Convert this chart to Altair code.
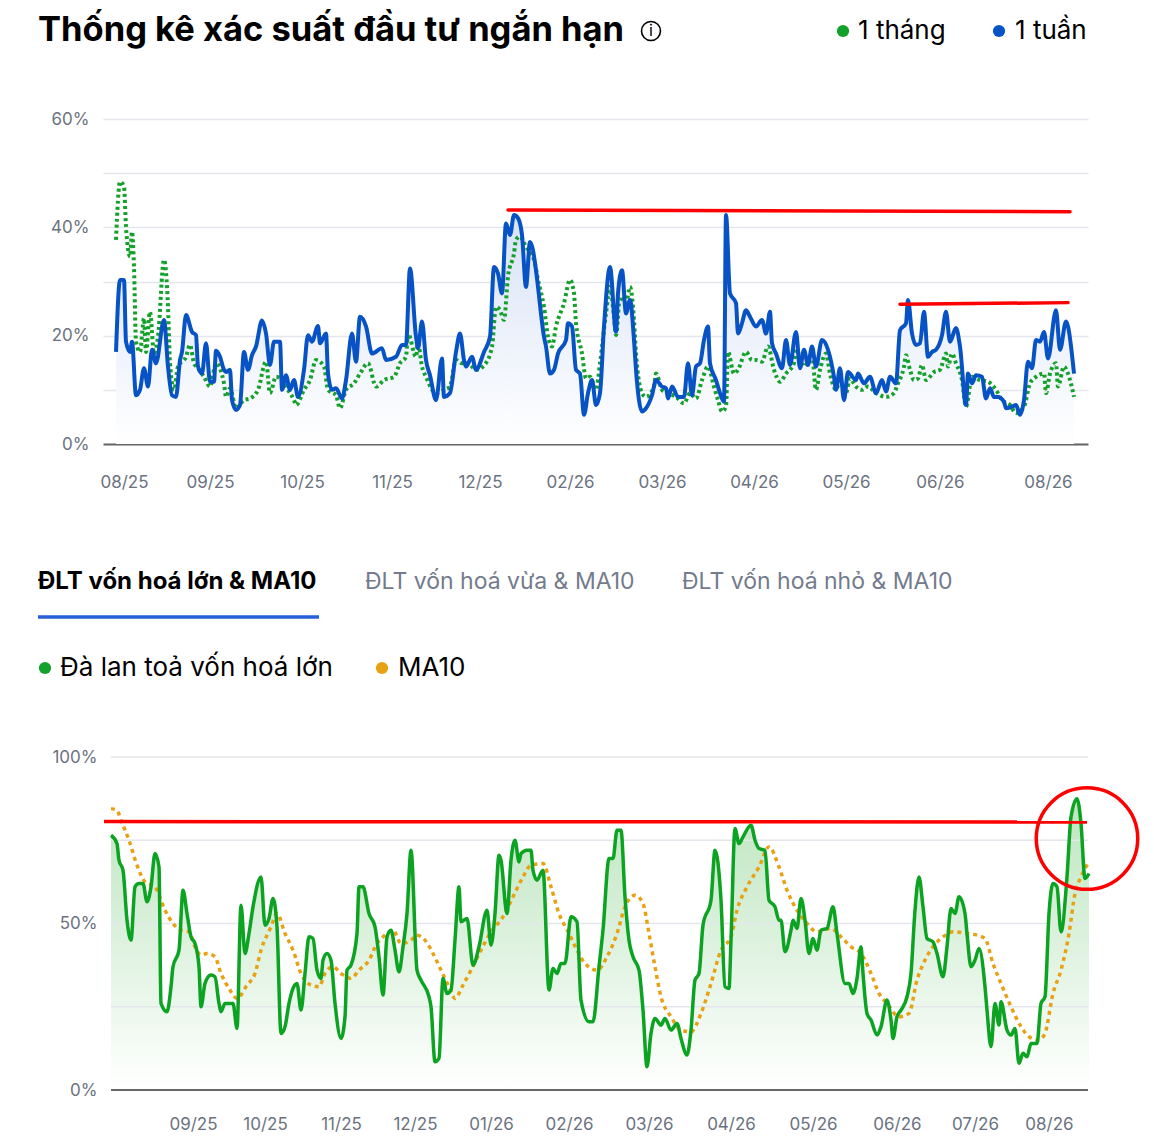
import altair as alt
import pandas as pd

# ---------------- texts ----------------
TITLE = "Thống kê xác suất đầu tư ngắn hạn"
TOP_LEGEND = ["1 tháng", "1 tuần"]
TABS = ["ĐLT vốn hoá lớn & MA10", "ĐLT vốn hoá vừa & MA10", "ĐLT vốn hoá nhỏ & MA10"]
BOT_LEGEND = ["Đà lan toả vốn hoá lớn", "MA10"]

# ---------------- top chart data (session index, %) ----------------
TOP_TICKS = [4, 47, 93, 138, 182, 227, 273, 319, 365, 412, 466]
TOP_TICK_LABELS = ["08/25", "09/25", "10/25", "11/25", "12/25", "02/26",
                   "03/26", "04/26", "05/26", "06/26", "08/26"]

week_x = [0, 2, 4, 5, 7, 8, 10, 12, 14, 16, 18, 20, 24, 26, 28, 30, 32, 33, 35, 38,
          40, 41, 43, 45, 47, 49, 50, 52, 54, 55, 57, 58, 60, 62, 64, 66, 68, 70, 73, 75,
          77, 79, 82, 83, 85, 87, 89, 91, 94, 96, 98, 101, 102, 105, 106, 108, 110, 113, 115, 118,
          120, 122, 125, 128, 133, 135, 140, 143, 145, 147, 150, 151, 153, 155, 157, 160, 163, 164, 167, 170,
          172, 174, 175, 178, 180, 184, 187, 189, 191, 193, 195, 197, 199, 201, 203, 205, 207, 210, 211, 214,
          215, 217, 219, 221, 225, 226, 228, 230, 232, 234, 236, 238, 240, 242, 244, 247, 250, 251, 253, 255,
          257, 259, 260, 263, 265, 268, 270, 273, 275, 276, 278, 281, 284, 286, 288, 290, 292, 294, 296, 297,
          300, 302, 304, 305, 307, 310, 311, 313, 315, 317, 320, 323, 325, 327, 328, 330, 333, 335, 337, 340,
          342, 344, 346, 348, 350, 353, 356, 359, 360, 362, 364, 366, 370, 371, 374, 377, 380, 383, 385, 387,
          390, 392, 395, 396, 398, 400, 402, 404, 406, 408, 410, 413, 415, 417, 420, 422, 425, 426, 428, 430,
          433, 435, 437, 439, 441, 444, 445, 448, 450, 452, 454, 456, 458, 460, 462, 464, 466, 470, 472, 475,
          476, 479]
week_y = [17.0, 30.3, 30.3, 18.9, 17.0, 18.9, 9.0, 10.0, 14.0, 10.6, 17.4, 14.9, 22.9, 14.3, 9.0, 8.7, 15.5, 17.0, 23.8, 20.7,
          20.1, 14.3, 13.0, 18.6, 11.5, 11.5, 17.2, 16.1, 13.7, 13.3, 13.7, 8.1, 6.3, 7.2, 17.0, 13.7, 16.4, 18.0, 22.8, 20.4,
          14.6, 18.9, 18.9, 10.0, 12.7, 10.0, 11.8, 8.7, 13.7, 20.1, 18.9, 21.8, 18.6, 20.4, 13.0, 10.0, 10.3, 8.4, 11.8, 20.4,
          15.2, 23.5, 21.7, 16.7, 17.7, 15.5, 16.1, 18.3, 18.3, 32.4, 19.8, 17.7, 22.6, 15.5, 12.7, 8.1, 15.8, 8.7, 9.4, 17.0,
          20.4, 15.5, 14.3, 16.1, 13.7, 17.0, 19.8, 32.7, 31.5, 27.8, 40.7, 38.6, 42.3, 41.7, 38.6, 29.0, 37.3, 32.1, 29.0, 19.8,
          18.0, 13.0, 13.7, 16.7, 19.2, 22.3, 21.7, 13.7, 13.0, 5.4, 9.4, 11.8, 7.2, 9.4, 21.7, 32.7, 20.7, 27.8, 32.1, 24.1,
          26.6, 19.2, 13.7, 6.0, 6.6, 9.0, 11.8, 10.6, 10.3, 8.4, 10.6, 8.7, 8.7, 14.9, 9.0, 14.3, 14.9, 19.2, 21.7, 14.9,
          11.8, 9.4, 7.8, 42.3, 27.8, 26.0, 20.4, 22.3, 24.7, 23.5, 21.7, 22.9, 20.4, 24.4, 18.6, 16.7, 14.0, 19.2, 14.6, 20.7,
          14.0, 17.4, 14.6, 18.0, 14.3, 19.2, 17.4, 12.4, 10.0, 14.0, 8.1, 13.3, 11.8, 13.0, 11.2, 12.4, 9.4, 11.8, 9.7, 12.4,
          11.2, 21.0, 22.3, 26.6, 20.4, 18.3, 18.6, 24.4, 16.1, 17.0, 17.4, 20.1, 24.4, 18.9, 21.4, 18.0, 7.2, 13.0, 11.2, 12.7,
          12.4, 8.4, 10.3, 8.7, 8.7, 7.8, 6.6, 6.9, 7.2, 5.4, 8.1, 15.2, 14.0, 19.2, 18.9, 20.7, 15.8, 24.7, 17.4, 22.6,
          21.7, 13.0]

month_x = [0, 2, 4, 5, 7, 8, 9, 10, 12, 14, 15, 17, 19, 21, 24, 26, 27, 29, 31, 35,
           37, 39, 41, 44, 47, 50, 54, 55, 57, 60, 64, 67, 71, 75, 77, 80, 83, 86, 89, 90,
           94, 97, 100, 104, 106, 110, 112, 115, 119, 122, 126, 130, 134, 139, 142, 145, 146, 150, 151, 153,
           155, 160, 164, 167, 170, 173, 176, 180, 184, 188, 190, 192, 194, 196, 199, 200, 202, 205, 209, 211,
           214, 216, 218, 220, 224, 227, 229, 230, 233, 235, 237, 240, 242, 245, 247, 249, 250, 252, 255, 257,
           259, 260, 263, 265, 269, 270, 273, 276, 280, 284, 287, 290, 293, 296, 299, 301, 303, 305, 306, 309,
           311, 315, 318, 320, 323, 326, 329, 332, 335, 339, 340, 344, 348, 350, 352, 355, 357, 360, 362, 365,
           367, 370, 373, 376, 380, 382, 385, 389, 391, 394, 395, 397, 399, 401, 403, 405, 409, 412, 415, 416,
           418, 420, 423, 425, 428, 432, 436, 440, 443, 447, 450, 454, 457, 460, 464, 465, 467, 470, 471, 474,
           476, 479]
month_y = [37.7, 48.4, 47.5, 40.1, 34.6, 39.2, 32.7, 18.9, 17.0, 23.2, 17.0, 24.4, 16.7, 19.8, 34.0, 25.3, 14.9, 10.0, 14.3, 16.1,
           18.3, 14.9, 14.0, 12.4, 10.6, 14.9, 11.2, 8.7, 10.3, 6.6, 8.1, 8.4, 10.0, 15.2, 9.4, 12.4, 11.8, 10.0, 8.1, 7.2,
           10.0, 11.8, 15.5, 14.3, 10.0, 9.0, 6.6, 10.0, 11.2, 13.0, 14.9, 10.6, 11.8, 12.4, 14.9, 16.1, 20.4, 16.1, 18.6, 14.3,
           12.4, 9.4, 10.0, 10.6, 15.5, 14.9, 14.9, 13.7, 14.5, 18.0, 25.3, 24.7, 22.9, 30.9, 35.2, 37.7, 38.3, 36.4, 34.0, 30.3,
           25.3, 19.8, 18.0, 21.7, 26.0, 30.3, 27.8, 22.3, 16.7, 12.1, 12.4, 10.0, 14.9, 24.1, 29.0, 23.5, 20.1, 27.2, 26.0, 29.0,
           22.9, 16.7, 9.4, 8.7, 10.6, 13.0, 10.0, 9.4, 8.7, 7.5, 9.4, 8.4, 11.8, 14.3, 10.6, 8.1, 6.0, 6.9, 17.0, 13.0,
           13.7, 17.0, 15.5, 15.5, 15.2, 18.0, 13.7, 11.5, 13.0, 14.9, 17.4, 14.3, 16.4, 10.0, 13.7, 16.7, 13.0, 10.0, 11.8, 9.4,
           12.1, 10.6, 10.0, 10.6, 9.4, 9.0, 8.7, 9.4, 11.2, 14.3, 16.4, 13.7, 11.8, 12.1, 14.6, 11.8, 13.3, 13.7, 16.7, 14.3,
           16.7, 14.9, 11.8, 6.9, 12.4, 11.8, 11.5, 10.0, 8.1, 7.2, 5.7, 6.9, 11.2, 12.4, 13.0, 9.4, 13.0, 14.9, 10.6, 14.3,
           13.0, 8.7]

# red annotation lines on the top chart: (x start, x end, y start, y end)
top_red_x1 = [196, 392]
top_red_x2 = [477, 476]
top_red_y1 = [43.2, 25.8]
top_red_y2 = [42.9, 26.1]

# ---------------- bottom chart data (session index, %) ----------------
BOT_TICKS = [41, 77, 115, 152, 190, 229, 269, 310, 351, 393, 432, 469]
BOT_TICK_LABELS = ["09/25", "10/25", "11/25", "12/25", "01/26", "02/26",
                   "03/26", "04/26", "05/26", "06/26", "07/26", "08/26"]
BOT_GRID = [25, 50, 75, 100]

large_x = [0, 3, 4, 6, 8, 10, 12, 14, 16, 18, 20, 22, 24, 25, 28, 30, 31, 34, 36, 38,
           40, 42, 44, 45, 47, 50, 52, 54, 55, 57, 61, 63, 65, 67, 69, 71, 75, 77, 79, 81,
           83, 85, 87, 89, 91, 93, 95, 97, 99, 101, 103, 105, 106, 108, 110, 112, 115, 117, 118, 120,
           123, 124, 126, 129, 132, 134, 136, 138, 140, 142, 144, 146, 148, 150, 153, 155, 159, 160, 162, 164,
           166, 168, 170, 172, 174, 175, 178, 181, 184, 188, 190, 192, 194, 195, 198, 200, 202, 204, 205, 208,
           210, 211, 213, 216, 219, 221, 223, 225, 227, 230, 233, 235, 239, 241, 244, 246, 249, 251, 253, 255,
           257, 259, 261, 264, 266, 268, 270, 272, 275, 277, 280, 283, 285, 288, 290, 292, 294, 296, 300, 302,
           305, 307, 309, 310, 312, 314, 316, 320, 322, 324, 327, 329, 332, 334, 335, 337, 340, 341, 343, 345,
           347, 349, 351, 353, 355, 358, 361, 363, 367, 369, 371, 373, 375, 376, 378, 380, 383, 385, 388, 390,
           391, 393, 395, 398, 400, 402, 404, 406, 408, 411, 413, 416, 418, 420, 422, 424, 427, 428, 430, 432,
           434, 437, 438, 440, 442, 444, 445, 448, 450, 452, 454, 456, 458, 460, 463, 465, 467, 469, 471, 473,
           475, 478, 480, 483, 485, 487, 489]
large_y = [76.5, 74, 69, 66, 51, 45, 61, 62, 62, 56.5, 61, 71, 67, 26, 23.5, 31, 37, 42, 60, 53,
           46, 44, 37, 25, 32, 34.5, 34, 26, 23.5, 26, 26, 18.5, 55.5, 41, 47, 55, 64, 49.5, 51.5, 57.5,
           49, 17, 19, 26, 30.5, 32, 24, 35, 46, 45.5, 36, 33.5, 39, 41, 39, 26, 15.5, 22, 36, 37.5,
           47, 61, 61, 53, 49, 40, 28.5, 46, 48, 42, 35.5, 43, 53, 72, 36, 33, 28, 25, 8.5, 9.5,
           33.5, 29, 30, 45, 61, 50.5, 51.5, 37.5, 43, 54, 43.5, 53, 70.5, 69, 53, 69, 75, 68.5, 71, 72,
           72, 66, 63, 66, 30, 36.5, 35, 38, 38, 52, 50.5, 27, 20.5, 20.5, 37, 48, 69.5, 69.5, 78, 78,
           58, 45, 40, 36, 24, 7, 17, 21.5, 19.5, 21.5, 18, 20, 15.5, 10.5, 18, 33, 35, 49.5, 57, 72,
           57, 31, 30.5, 45, 78.5, 74, 76, 79.5, 75, 72.5, 72, 57, 55, 51, 51, 41.5, 48, 51, 48.5, 57.5,
           51, 41, 45.5, 42, 48, 48.5, 55, 47, 32, 32, 29, 33.5, 43, 35, 23, 21, 16.5, 19, 27, 21,
           15.5, 22, 24, 28, 35, 54, 64, 55, 45.5, 44.5, 41, 34, 43, 54.5, 53, 58, 53, 47, 37, 39,
           42.5, 31, 24, 13, 26, 19.5, 26.5, 18, 16.5, 18.5, 8, 11, 10, 14, 14, 26, 28, 53, 62, 61,
           47.5, 64, 82, 87.5, 80, 63.5, 65]

ma10_x = [0, 3, 5, 9, 13, 17, 22, 27, 31, 35, 39, 42, 45, 48, 52, 55, 59, 63, 68, 72,
          75, 80, 83, 87, 91, 95, 100, 104, 107, 111, 115, 120, 124, 129, 133, 137, 141, 145, 150, 153,
          157, 161, 165, 169, 172, 176, 180, 185, 190, 196, 201, 206, 210, 216, 220, 224, 229, 233, 237, 243,
          248, 253, 257, 262, 266, 269, 272, 275, 280, 285, 290, 295, 300, 305, 310, 313, 318, 324, 329, 334,
          338, 343, 348, 353, 360, 365, 370, 375, 380, 384, 388, 394, 399, 403, 407, 411, 416, 421, 428, 433,
          437, 441, 445, 450, 455, 459, 464, 467, 471, 475, 479, 482, 485, 489]
ma10_y = [84.5, 84, 81, 75, 67.5, 62.5, 61, 54, 50, 48, 47.5, 43, 40.5, 41, 40, 35, 30.5, 27.5, 31.5, 35,
          42, 49, 53, 47, 42, 35, 31.5, 31, 35, 37, 35, 33.5, 36, 39, 44, 46.5, 48, 44, 45, 46.5,
          45, 41, 36, 31, 27.5, 31.5, 36, 42, 47.5, 52, 58, 64, 67.5, 68, 61, 53, 47, 42, 38, 36,
          40, 47, 55, 58.5, 56, 47, 37, 28, 22, 18, 17.5, 23, 32, 42, 46, 54, 61, 67, 73, 67,
          60, 54, 50, 47.5, 48.5, 46, 43, 41, 35, 29, 26, 22, 23, 33, 39, 43, 46, 47.5, 47, 46.5,
          45.5, 38, 32, 25, 19, 16, 15, 17, 29, 36, 47, 59, 64, 68.5]

bot_red_x1 = [-3.5]
bot_red_x2 = [488]
bot_red_y1 = [80.6]
bot_red_y2 = [80.5]
circle_x = [488]
circle_y = [75.5]

# ---------------- styling ----------------
FONT = "Inter"
BLUE = "#0753c6"
GREEN_TOP = "#13a12a"
GREEN = "#0ba321"
ORANGE = "#e9a114"
RED = "#ff0000"
GRID = "#e4e6eb"
LABEL = "#6b7280"
PLOT_W = 985


def label_expr(ticks, labels):
    expr = "''"
    for t, l in reversed(list(zip(ticks, labels))):
        expr = f"datum.value === {t} ? '{l}' : ({expr})"
    return expr


def txt(text, x, y, size, color="#000000", weight="normal", align="left"):
    return alt.Chart(pd.DataFrame({"t": [text]})).mark_text(
        font=FONT, fontSize=size, fontWeight=weight, color=color,
        align=align, baseline="middle"
    ).encode(x=alt.value(x), y=alt.value(y), text="t:N")


def dot(x, y, color, size):
    return alt.Chart(pd.DataFrame({"d": [0]})).mark_point(
        shape="circle", filled=True, opacity=1, color=color, size=size
    ).encode(x=alt.value(x), y=alt.value(y))


# ---------------- top chart ----------------
week_df = pd.DataFrame({"s": week_x, "v": week_y})
month_df = pd.DataFrame({"s": month_x, "v": month_y})
top_red_df = pd.DataFrame({"x1": top_red_x1, "x2": top_red_x2, "y1": top_red_y1, "y2": top_red_y2})

tx = alt.X("s:Q", scale=alt.Scale(domain=[-6.5, 486], nice=False, zero=False),
           axis=alt.Axis(values=TOP_TICKS, labelExpr=label_expr(TOP_TICKS, TOP_TICK_LABELS),
                         grid=False, ticks=False, domainColor="#666666", domainWidth=2,
                         labelPadding=30, title=None, labelFlush=False))
ty = alt.Y("v:Q", scale=alt.Scale(domain=[0, 60], nice=False),
           axis=alt.Axis(values=[0, 10, 20, 30, 40, 50, 60],
                         labelExpr="datum.value % 20 === 0 ? datum.value + '%' : ''",
                         grid=True, gridColor=GRID, gridWidth=1.3, ticks=False, domain=False,
                         labelPadding=14, title=None))

top_area = alt.Chart(week_df).mark_area(
    interpolate="monotone",
    color=alt.Gradient(gradient="linear",
                       stops=[alt.GradientStop(color="#ffffff", offset=0),
                              alt.GradientStop(color="#d8e2f6", offset=1)],
                       x1=1, x2=1, y1=1, y2=0)
).encode(x=tx, y=ty)
top_month = alt.Chart(month_df).mark_line(
    interpolate="monotone", color=GREEN_TOP, strokeWidth=4, strokeDash=[3, 3]
).encode(x="s:Q", y="v:Q")
top_week = alt.Chart(week_df).mark_line(
    interpolate="monotone", color=BLUE, strokeWidth=4
).encode(x="s:Q", y="v:Q")
top_red = alt.Chart(top_red_df).mark_rule(color=RED, strokeWidth=3.5, strokeCap="round").encode(
    x="x1:Q", x2="x2:Q", y="y1:Q", y2="y2:Q")

info_ring = alt.Chart(pd.DataFrame({"d": [0]})).mark_point(
    shape="circle", filled=False, color="#000000", strokeWidth=1.6, size=360, opacity=1
).encode(x=alt.value(548), y=alt.value(-88))

top = alt.layer(
    top_area, top_month, top_week, top_red,
    txt(TITLE, -65, -88, 34.5, weight="bold"),
    info_ring,
    txt("i", 548, -88, 16, align="center"),
    dot(740, -88, "#12a12a", 150), txt(TOP_LEGEND[0], 755, -88, 26),
    dot(896, -88, "#0753c6", 150), txt(TOP_LEGEND[1], 912, -88, 26),
).properties(width=PLOT_W, height=325)

# ---------------- bottom chart ----------------
large_df = pd.DataFrame({"s": large_x, "v": large_y})
ma_df = pd.DataFrame({"s": ma10_x, "v": ma10_y})
bot_red_df = pd.DataFrame({"x1": bot_red_x1, "x2": bot_red_x2, "y1": bot_red_y1, "y2": bot_red_y2})
circle_df = pd.DataFrame({"s": circle_x, "v": circle_y})
grid_df = pd.DataFrame({"g": BOT_GRID})
base_df = pd.DataFrame({"g": [0]})

bx = alt.X("s:Q", scale=alt.Scale(domain=[-4, 488.5], nice=False, zero=False),
           axis=alt.Axis(values=BOT_TICKS, labelExpr=label_expr(BOT_TICKS, BOT_TICK_LABELS),
                         grid=False, ticks=False, domain=False,
                         labelPadding=26, title=None, labelFlush=False))
by = alt.Y("v:Q", scale=alt.Scale(domain=[0, 100], nice=False),
           axis=alt.Axis(values=[0, 50, 100], format=".0f",
                         labelExpr="datum.value + '%'",
                         grid=False, ticks=False, domain=False,
                         labelPadding=6, title=None))

bot_grid = alt.Chart(grid_df).mark_rule(color=GRID, strokeWidth=1.3).encode(
    y="g:Q", x=alt.value(8), x2=alt.value(PLOT_W))
bot_base = alt.Chart(base_df).mark_rule(color="#666666", strokeWidth=2).encode(
    y="g:Q", x=alt.value(8), x2=alt.value(PLOT_W))

bot_area = alt.Chart(large_df).mark_area(
    interpolate="monotone",
    color=alt.Gradient(gradient="linear",
                       stops=[alt.GradientStop(color="#ffffff", offset=0),
                              alt.GradientStop(color="#bde5bf", offset=1)],
                       x1=1, x2=1, y1=1, y2=0)
).encode(x=bx, y=by)
bot_ma = alt.Chart(ma_df).mark_line(
    interpolate="monotone", color=ORANGE, strokeWidth=3.5, strokeDash=[4, 4]
).encode(x="s:Q", y="v:Q")
bot_line = alt.Chart(large_df).mark_line(
    interpolate="monotone", color=GREEN, strokeWidth=3.5
).encode(x="s:Q", y="v:Q")
bot_red = alt.Chart(bot_red_df).mark_rule(color=RED, strokeWidth=3.5).encode(
    x="x1:Q", x2="x2:Q", y="y1:Q", y2="y2:Q")
bot_circle = alt.Chart(circle_df).mark_point(
    shape="circle", filled=False, color=RED, strokeWidth=3.5, size=10300, opacity=1
).encode(x="s:Q", y="v:Q")

underline = alt.Chart(pd.DataFrame({"d": [0]})).mark_rule(
    color="#2760d8", strokeWidth=3.5
).encode(x=alt.value(-65), x2=alt.value(216), y=alt.value(-140))

bottom = alt.layer(
    bot_area, bot_grid, bot_base, bot_ma, bot_line, bot_red, bot_circle,
    txt(TABS[0], -65, -175, 24, weight="bold"),
    txt(TABS[1], 262, -175, 23, color="#737b8c"),
    txt(TABS[2], 579, -175, 23, color="#737b8c"),
    underline,
    dot(-58, -89, "#12a12a", 150), txt(BOT_LEGEND[0], -43, -89, 26),
    dot(279, -89, "#e9a114", 150), txt(BOT_LEGEND[1], 295, -89, 26),
).properties(width=PLOT_W, height=333)

chart = alt.vconcat(top, bottom, spacing=80).properties(
    padding={"left": 28, "top": 5, "right": 0, "bottom": 0}
).configure_view(stroke=None).configure_axis(
    labelFont=FONT, labelFontSize=17, labelColor=LABEL
)

chart.save("out.html", embed_options={"renderer": "svg", "actions": False})
